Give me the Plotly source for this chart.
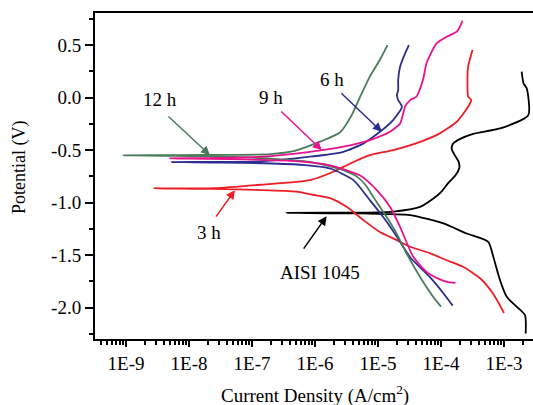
import numpy as np
import plotly.graph_objects as go

# ---------------- data (log10 of current density in A/cm^2, potential in V) ----------------
# each curve: cathodic end -> corrosion-potential tip -> anodic end
log_i_aisi = [-2.656, -2.667, -2.80, -2.956, -3.063, -3.17, -3.25, -3.593, -3.963, -4.49, -5.286, -6.45,
              -5.286, -4.757, -4.333, -4.12, -4.0, -3.88, -3.77, -3.71, -3.72, -3.78, -3.83, -3.81, -3.72,
              -3.49, -3.063, -2.614, -2.64, -2.69, -2.72]
e_aisi = [-2.246, -2.07, -1.99, -1.897, -1.738, -1.516, -1.373, -1.294, -1.198, -1.119, -1.103, -1.097,
          -1.095, -1.085, -1.04, -0.96, -0.90, -0.81, -0.74, -0.67, -0.61, -0.55, -0.49, -0.44, -0.40,
          -0.345, -0.294, -0.167, 0.088, 0.135, 0.246]

log_i_3h = [-3.0, -3.17, -3.38, -3.65, -3.91, -4.18, -4.49, -4.70, -4.97, -5.23, -5.5, -5.75, -6.03,
            -6.3, -6.87, -7.6, -8.556,
            -7.6, -6.87, -6.08, -5.71, -5.44, -5.13, -4.76, -4.33, -4.02, -3.75, -3.57, -3.52, -3.57,
            -3.58, -3.57, -3.50]
e_3h = [-2.05, -1.87, -1.72, -1.61, -1.548, -1.48, -1.42, -1.357, -1.28, -1.167, -1.04, -0.96, -0.925,
        -0.895, -0.88, -0.87, -0.865,
        -0.862, -0.83, -0.786, -0.706, -0.627, -0.548, -0.50, -0.421, -0.341, -0.23, -0.087, -0.024, 0.008,
        0.103, 0.293, 0.452]

log_i_6h = [-3.815, -3.96, -4.175, -4.49, -4.70, -4.92, -5.13, -5.39, -5.76, -6.2, -6.8, -7.5, -8.275,
            -7.5, -6.87, -6.08, -5.55, -5.23, -4.97, -4.76, -4.62, -4.68, -4.70, -4.68, -4.68, -4.65,
            -4.57, -4.51]
e_6h = [-1.98, -1.865, -1.71, -1.52, -1.325, -1.135, -0.976, -0.786, -0.675, -0.64, -0.625, -0.618, -0.614,
        -0.612, -0.608, -0.563, -0.516, -0.436, -0.326, -0.214, -0.087, -0.024, 0.024, 0.07, 0.167, 0.293,
        0.421, 0.50]

log_i_9h = [-3.77, -3.9, -4.016, -4.23, -4.44, -4.65, -4.81, -5.02, -5.29, -5.76, -6.3, -7.0, -7.7, -8.3,
            -7.7, -6.87, -6.08, -5.55, -5.13, -4.81, -4.65, -4.60, -4.57, -4.49, -4.39, -4.33, -4.28,
            -4.23, -4.07, -3.91, -3.75, -3.70, -3.66]
e_9h = [-1.764, -1.755, -1.731, -1.659, -1.516, -1.23, -1.04, -0.88, -0.74, -0.645, -0.605, -0.59, -0.583,
        -0.579,
        -0.576, -0.563, -0.516, -0.468, -0.405, -0.326, -0.246, -0.151, -0.087, -0.024, 0.008, 0.088,
        0.183, 0.326, 0.516, 0.579, 0.627, 0.674, 0.731]

log_i_12h = [-4.00, -4.12, -4.33, -4.55, -4.70, -4.86, -5.07, -5.20, -5.34, -5.55, -5.76, -6.1, -6.6,
             -7.3, -8.2, -9.04,
             -8.2, -7.3, -6.71, -6.34, -5.92, -5.6, -5.42, -5.29, -5.13, -4.97, -4.85]
e_12h = [-1.99, -1.90, -1.71, -1.48, -1.30, -1.14, -0.95, -0.83, -0.75, -0.69, -0.655, -0.61, -0.585,
         -0.565, -0.555, -0.55,
         -0.548, -0.545, -0.538, -0.51, -0.42, -0.33, -0.17, 0.0, 0.2, 0.36, 0.50]

# labels, arrow heads (current A/cm^2, potential V), label centres
labels = ["12 h", "9 h", "6 h", "3 h", "AISI 1045"]
label_i = [3.47e-9, 2.0e-7, 1.86e-6, 2.07e-8, 1.2e-6]
label_e = [-0.014, 0.005, 0.176, -1.281, -1.662]
arrow_i = [2.15e-8, 1.28e-6, 1.15e-5, 5.37e-8, 1.53e-6]
arrow_e = [-0.548, -0.50, -0.326, -0.881, -1.129]

x_tickvals = [1e-9, 1e-8, 1e-7, 1e-6, 1e-5, 1e-4, 1e-3]
x_ticktext = ["1E-9", "1E-8", "1E-7", "1E-6", "1E-5", "1E-4", "1E-3"]
y_tickvals = [0.5, 0.0, -0.5, -1.0, -1.5, -2.0]
y_ticktext = ["0.5", "0.0", "-0.5", "-1.0", "-1.5", "-2.0"]

# ---------------- styling ----------------
FONT = "Liberation Serif"
colors = {"12 h": "#4a7c5c", "9 h": "#e8128a", "6 h": "#2c2c92", "3 h": "#ee1d25", "AISI 1045": "#000000"}
tails = {"12 h": (-43, -40), "9 h": (-42, -40), "6 h": (-42, -40), "3 h": (-20, 28), "AISI 1045": (-24, 34)}

series = [("AISI 1045", log_i_aisi, e_aisi), ("3 h", log_i_3h, e_3h), ("6 h", log_i_6h, e_6h),
          ("12 h", log_i_12h, e_12h), ("9 h", log_i_9h, e_9h)]

fig = go.Figure()
for name, li, e in series:
    fig.add_trace(go.Scatter(x=10 ** np.array(li), y=e, mode="lines", name=name,
                             line=dict(color=colors[name], width=1.8, shape="spline", smoothing=0.6),
                             showlegend=False))

for lab, li, le, ai, ae in zip(labels, label_i, label_e, arrow_i, arrow_e):
    c = colors[lab]
    fig.add_annotation(x=np.log10(ai), y=ae, xref="x", yref="y", text="", showarrow=True,
                       ax=tails[lab][0], ay=tails[lab][1], arrowhead=2, arrowsize=1.2, arrowwidth=1.5,
                       arrowcolor=c, standoff=0)
    fig.add_annotation(x=np.log10(li), y=le, xref="x", yref="y", text=lab, showarrow=False,
                       font=dict(family=FONT, size=19, color="black"))

W, H = 533, 405
L, R, T, B = 95, 0, 13, 66

def paper_x(px):
    return (px - L) / (W - L - R)

def paper_y(py):
    return 1 - (py - T) / (H - T - B)

# axis titles
fig.add_annotation(x=paper_x(20), y=paper_y(168), xref="paper", yref="paper", text="Potential (V)",
                   showarrow=False, textangle=-90, xanchor="center", yanchor="middle",
                   font=dict(family=FONT, size=18, color="black"))
fig.add_annotation(x=paper_x(315), y=paper_y(394), xref="paper", yref="paper",
                   text="Current Density (A/cm<sup>2</sup>)", showarrow=False,
                   xanchor="center", yanchor="middle", font=dict(family=FONT, size=19, color="black"))

fig.update_layout(
    width=W, height=H, margin=dict(l=L, r=R, t=T, b=B, autoexpand=False),
    paper_bgcolor="white", plot_bgcolor="white",
    font=dict(family=FONT, size=19, color="black"),
    xaxis=dict(type="log", range=[-9.492, -2.54], tickmode="array", tickvals=x_tickvals,
               ticktext=x_ticktext, ticks="outside", ticklen=6, tickwidth=2, tickcolor="black",
               showline=True, linewidth=2, linecolor="black", mirror=True, showgrid=False,
               zeroline=False, automargin=False, tickfont=dict(family=FONT, size=19),
               minor=dict(ticks="outside", ticklen=4, tickwidth=1.5, tickcolor="black",
                          dtick="D1", showgrid=False)),
    yaxis=dict(range=[-2.298, 0.805], tickmode="array", tickvals=y_tickvals, ticktext=y_ticktext,
               ticks="outside", ticklen=8, tickwidth=2, tickcolor="black", automargin=False,
               showline=True, linewidth=2, linecolor="black", showgrid=False, zeroline=False,
               tickfont=dict(family=FONT, size=19),
               minor=dict(ticks="outside", ticklen=4, tickwidth=2, tickcolor="black",
                          tickmode="linear", tick0=0, dtick=0.25, showgrid=False)),
)

fig.write_html("out.html", config={"displayModeBar": False},
               post_script="document.body.style.margin='0';document.body.style.overflow='hidden';")
